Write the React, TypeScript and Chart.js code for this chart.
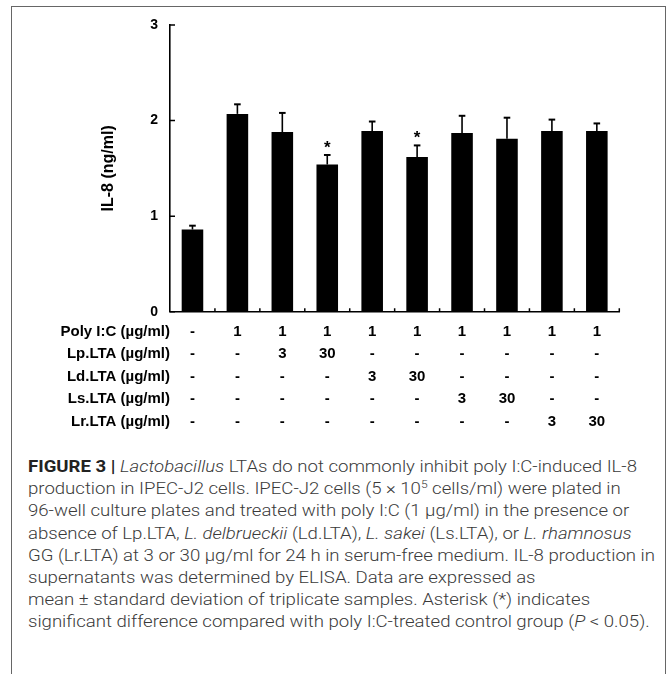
import React, { useEffect, useLayoutEffect, useRef, useState } from "react";
import { Chart, registerables } from "chart.js";

Chart.register(...registerables);

const categories = ["1", "2", "3", "4", "5", "6", "7", "8", "9", "10"];
const means = [0.86, 2.07, 1.88, 1.54, 1.89, 1.62, 1.87, 1.81, 1.89, 1.89];
const sds = [0.04, 0.1, 0.2, 0.1, 0.1, 0.12, 0.18, 0.22, 0.12, 0.08];
const significant = [false, false, false, true, false, true, false, false, false, false];

const rowLabels = [
  "Poly I:C (\u00b5g/ml)",
  "Lp.LTA (\u00b5g/ml)",
  "Ld.LTA (\u00b5g/ml)",
  "Ls.LTA (\u00b5g/ml)",
  "Lr.LTA (\u00b5g/ml)",
];
const polyIC = ["-", "1", "1", "1", "1", "1", "1", "1", "1", "1"];
const lpLTA = ["-", "-", "3", "30", "-", "-", "-", "-", "-", "-"];
const ldLTA = ["-", "-", "-", "-", "3", "30", "-", "-", "-", "-"];
const lsLTA = ["-", "-", "-", "-", "-", "-", "3", "30", "-", "-"];
const lrLTA = ["-", "-", "-", "-", "-", "-", "-", "-", "3", "30"];
const tableRows = [polyIC, lpLTA, ldLTA, lsLTA, lrLTA];

const yTicks = [0, 1, 2, 3];
const yTitle = "IL-8 (ng/ml)";

const BOLD = "'Liberation Sans', Arial, sans-serif";
const ROW_H = 22.5;
const TICK_PAD = 8.5;

const overlayPlugin = {
  id: "overlay",
  afterDatasetsDraw(chart: any) {
    const { ctx, chartArea, scales } = chart;
    const x = scales.x;
    const y = scales.y;
    ctx.save();
    ctx.strokeStyle = "#000";
    means.forEach((m, i) => {
      const cx = x.getPixelForValue(i);
      const yTop = y.getPixelForValue(m);
      const yErr = y.getPixelForValue(m + sds[i]);
      ctx.lineWidth = 1.6;
      ctx.beginPath();
      ctx.moveTo(cx, yTop);
      ctx.lineTo(cx, yErr);
      ctx.stroke();
      ctx.lineWidth = 2;
      ctx.beginPath();
      ctx.moveTo(cx - 3.3, yErr);
      ctx.lineTo(cx + 3.3, yErr);
      ctx.stroke();
      if (significant[i]) {
        ctx.fillStyle = "#000";
        ctx.font = `bold 17px ${BOLD}`;
        ctx.textAlign = "center";
        ctx.textBaseline = "alphabetic";
        ctx.fillText("*", cx, yErr - 2);
      }
    });
    ctx.lineWidth = 1.5;
    ctx.beginPath();
    yTicks.forEach((v) => {
      const py = y.getPixelForValue(v);
      ctx.moveTo(chartArea.left, py);
      ctx.lineTo(chartArea.left + 5, py);
    });
    for (let k = 1; k <= categories.length; k++) {
      const px = x.getPixelForValue(k - 0.5);
      ctx.moveTo(px, chartArea.bottom);
      ctx.lineTo(px, chartArea.bottom - 3.5);
    }
    ctx.stroke();
    ctx.fillStyle = "#000";
    ctx.font = `bold 15px ${BOLD}`;
    ctx.textAlign = "right";
    ctx.textBaseline = "middle";
    rowLabels.forEach((lab, r) => {
      ctx.fillText(lab, chartArea.left, chartArea.bottom + TICK_PAD + ROW_H / 2 + r * ROW_H);
    });
    ctx.restore();
  },
};

function ChartView() {
  const ref = useRef<HTMLCanvasElement>(null);
  useEffect(() => {
    if (!ref.current) return;
    const chart = new Chart(ref.current, {
      type: "bar",
      data: {
        labels: categories,
        datasets: [
          {
            data: means,
            backgroundColor: "#000",
            borderWidth: 0,
            barPercentage: 0.48,
            categoryPercentage: 1,
          },
        ],
      },
      options: {
        animation: false,
        responsive: false,
        devicePixelRatio: 1,
        layout: { padding: { top: 25, right: 50.7, left: 0, bottom: 0 } },
        plugins: { legend: { display: false }, tooltip: { enabled: false } },
        scales: {
          x: {
            offset: true,
            grid: { display: false, drawTicks: false },
            border: { display: true, color: "#000", width: 1.6 },
            ticks: {
              padding: TICK_PAD,
              color: "#000",
              maxRotation: 0,
              autoSkip: false,
              font: { family: BOLD, size: 15, weight: "bold", lineHeight: ROW_H / 15 },
              callback: (_v: any, i: number) => tableRows.map((row) => row[i]),
            },
            afterFit: (s: any) => {
              s.height = 440 - 311.7;
            },
          },
          y: {
            min: 0,
            max: 3,
            grid: { display: false, drawTicks: false },
            border: { display: true, color: "#000", width: 1.6 },
            ticks: {
              stepSize: 1,
              padding: 12,
              color: "#000",
              font: { family: BOLD, size: 14, weight: "bold" },
              callback: (v: any) => (yTicks.includes(v) ? String(v) : ""),
            },
            title: {
              display: true,
              text: yTitle,
              color: "#000",
              font: { family: BOLD, size: 16, weight: "bold", lineHeight: 1.2 },
              padding: { top: 99.4, bottom: 0 },
            },
            afterFit: (s: any) => {
              s.width = 170;
            },
          },
        },
      },
      plugins: [overlayPlugin],
    });
    return () => chart.destroy();
  }, []);
  return <canvas ref={ref} width={670} height={440} style={{ position: "absolute", left: 0, top: 0 }} />;
}

const CAP = "Roboto, 'Open Sans', sans-serif";
const CAPTION_LINE1_WIDTH = 609;

export default function App() {
  const firstLine = useRef<HTMLSpanElement>(null);
  const [scale, setScale] = useState(1);
  useLayoutEffect(() => {
    if (firstLine.current) {
      const w = firstLine.current.getBoundingClientRect().width;
      if (w > 0) setScale(CAPTION_LINE1_WIDTH / w);
    }
  }, []);
  const lineStyle: React.CSSProperties = {
    position: "absolute",
    left: 0,
    whiteSpace: "nowrap",
    height: 22.2,
    lineHeight: "22.2px",
  };
  const lines: React.ReactNode[] = [
    <span ref={firstLine}>
      <b style={{ fontWeight: 700, color: "#222" }}>FIGURE 3 |</b> <i>Lactobacillus</i> LTAs do not commonly inhibit poly I:C-induced IL-8
    </span>,
    <>
      production in IPEC-J2 cells. IPEC-J2 cells (5 × 10<sup style={{ fontSize: "0.65em", lineHeight: 0 }}>5</sup> cells/ml) were plated in
    </>,
    <>96-well culture plates and treated with poly I:C (1 µg/ml) in the presence or</>,
    <>
      absence of Lp.LTA, <i>L. delbrueckii</i> (Ld.LTA), <i>L. sakei</i> (Ls.LTA), or <i>L. rhamnosus</i>
    </>,
    <>GG (Lr.LTA) at 3 or 30 µg/ml for 24 h in serum-free medium. IL-8 production in</>,
    <>supernatants was determined by ELISA. Data are expressed as</>,
    <>mean ± standard deviation of triplicate samples. Asterisk (*) indicates</>,
    <>
      significant difference compared with poly I:C-treated control group (<i>P</i> &lt; 0.05).
    </>,
  ];
  return (
    <div style={{ position: "absolute", left: 0, top: 0, width: 670, height: 674, overflow: "hidden", background: "#fff" }}>
      <div
        style={{
          position: "absolute",
          left: 11,
          top: 6,
          width: 655,
          height: 700,
          border: "1.5px solid #666",
          boxSizing: "border-box",
        }}
      />
      <ChartView />
      <div
        style={{
          position: "absolute",
          left: 28,
          top: 456,
          fontFamily: CAP,
          fontWeight: 300,
          fontSize: 16,
          color: "#3a3a3a",
          transform: `scaleX(${scale})`,
          transformOrigin: "0 0",
        }}
      >
        {lines.map((l, i) => (
          <div key={i} style={{ ...lineStyle, top: i * 22.2 }}>
            {l}
          </div>
        ))}
      </div>
    </div>
  );
}
